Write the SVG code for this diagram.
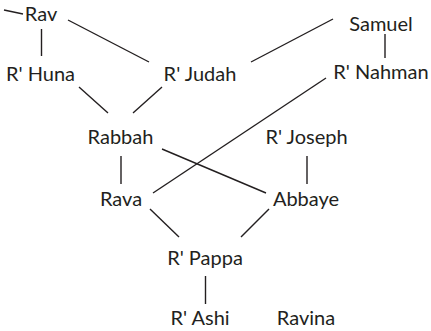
<svg xmlns="http://www.w3.org/2000/svg" width="431" height="331" viewBox="0 0 431 331">
<style>
text{font-family:Lato,"Open Sans","Liberation Sans",sans-serif;font-size:20px;fill:#231f20;text-anchor:middle}
.c line{stroke:#231f20;stroke-width:1.4;fill:none}
</style>
<rect width="431" height="331" fill="#fff"/>
<g class="c" id="connectors">
<line x1="4" y1="10" x2="23" y2="14"/>
<line x1="41.5" y1="29" x2="41.5" y2="56"/>
<line x1="68" y1="20" x2="149" y2="62"/>
<line x1="333" y1="19" x2="251" y2="62"/>
<line x1="385" y1="34" x2="385" y2="58"/>
<line x1="79" y1="87" x2="108" y2="113"/>
<line x1="162" y1="87" x2="133" y2="113"/>
<line x1="326" y1="78" x2="153" y2="193"/>
<line x1="162" y1="149" x2="266" y2="193"/>
<line x1="121" y1="156" x2="121" y2="184"/>
<line x1="307" y1="156" x2="307" y2="184"/>
<line x1="150" y1="209" x2="179" y2="237"/>
<line x1="269" y1="209" x2="241" y2="237"/>
<line x1="205.5" y1="276" x2="205.5" y2="304"/>
</g>
<g id="rav"><text x="41" y="21">Rav</text></g>
<g id="samuel"><text x="381" y="31">Samuel</text></g>
<g id="rhuna"><text x="40.5" y="81">R' Huna</text></g>
<g id="rjudah"><text x="200" y="81">R' Judah</text></g>
<g id="rnahman"><text x="381" y="79">R' Nahman</text></g>
<g id="rabbah"><text x="120.5" y="144">Rabbah</text></g>
<g id="rjoseph"><text x="306.5" y="144">R' Joseph</text></g>
<g id="rava"><text x="121" y="206">Rava</text></g>
<g id="abbaye"><text x="306" y="206">Abbaye</text></g>
<g id="rpappa"><text x="205" y="265">R' Pappa</text></g>
<g id="rashi"><text x="200" y="325">R' Ashi</text></g>
<g id="ravina"><text x="306" y="325">Ravina</text></g>
</svg>
